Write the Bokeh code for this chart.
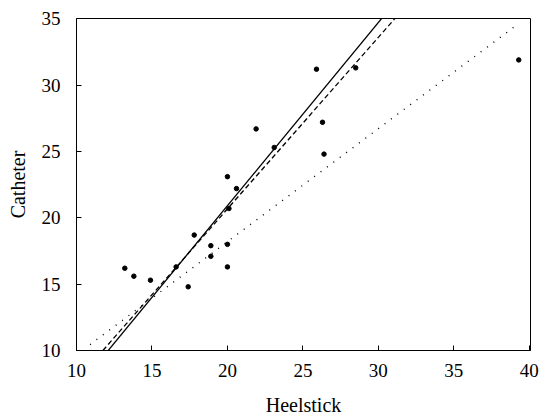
from bokeh.plotting import figure
from bokeh.models import Range1d, FixedTicker
from bokeh.embed import file_html
from bokeh.resources import INLINE
import numpy as np

# Data
heelstick = [13.2, 13.8, 14.9, 16.6, 17.4, 17.8, 18.9, 18.9, 20.0, 20.0, 20.0,
             20.1, 20.6, 21.9, 23.1, 25.9, 26.3, 26.4, 28.5, 39.3]
catheter = [16.2, 15.6, 15.3, 16.3, 14.8, 18.7, 17.9, 17.1, 16.3, 18.0, 23.1,
            20.7, 22.2, 26.7, 25.3, 31.2, 27.2, 24.8, 31.3, 31.9]

# Fitted lines: (intercept, slope, x_from, x_to)
solid_line = (-6.71, 1.381, 10.0, 40.0)
dashed_line = (-5.19, 1.293, 10.0, 40.0)
dotted_line = (1.16, 0.852, 10.9, 39.2)

x_ticks = [10, 15, 20, 25, 30, 35, 40]
y_ticks = [10, 15, 20, 25, 30, 35]

FONT = "Liberation Serif"

p = figure(width=546, height=420, output_backend="svg", toolbar_location=None,
           x_range=Range1d(10, 40.08), y_range=Range1d(10, 35.02),
           min_border_left=76, min_border_right=16, min_border_top=18,
           min_border_bottom=70, background_fill_color="white",
           border_fill_color="white")

p.xgrid.visible = False
p.ygrid.visible = False
p.outline_line_color = "black"
p.outline_line_width = 1

for ax, ticks in ((p.xaxis[0], x_ticks), (p.yaxis[0], y_ticks)):
    ax.ticker = FixedTicker(ticks=ticks)
    ax.major_tick_in = 5
    ax.major_tick_out = 0
    ax.minor_tick_in = 0
    ax.minor_tick_out = 0
    ax.axis_line_color = "black"
    ax.major_tick_line_color = "black"
    ax.major_label_text_font = FONT
    ax.major_label_text_font_size = "19px"
    ax.major_label_text_color = "black"
    ax.axis_label_text_font = FONT
    ax.axis_label_text_font_size = "20px"
    ax.axis_label_text_font_style = "normal"
    ax.axis_label_text_color = "black"

p.xaxis.axis_label = "Heelstick"
p.yaxis.axis_label = "Catheter"
p.xaxis.major_label_standoff = 13
p.yaxis.major_label_standoff = 16
p.xaxis.axis_label_standoff = 14
p.yaxis.axis_label_standoff = 10

def line_xy(spec):
    b, m, x0, x1 = spec
    xs = np.array([x0, x1])
    return xs, b + m * xs

xs, ys = line_xy(solid_line)
p.line(xs, ys, line_color="black", line_width=1.3)
xs, ys = line_xy(dashed_line)
p.line(xs, ys, line_color="black", line_width=1.3, line_dash="5 3")
xs, ys = line_xy(dotted_line)
p.line(xs, ys, line_color="black", line_width=1.4, line_dash="1 7")

p.scatter(heelstick, catheter, size=4.5, color="black")

open("out.html", "w").write(file_html(p, INLINE))
